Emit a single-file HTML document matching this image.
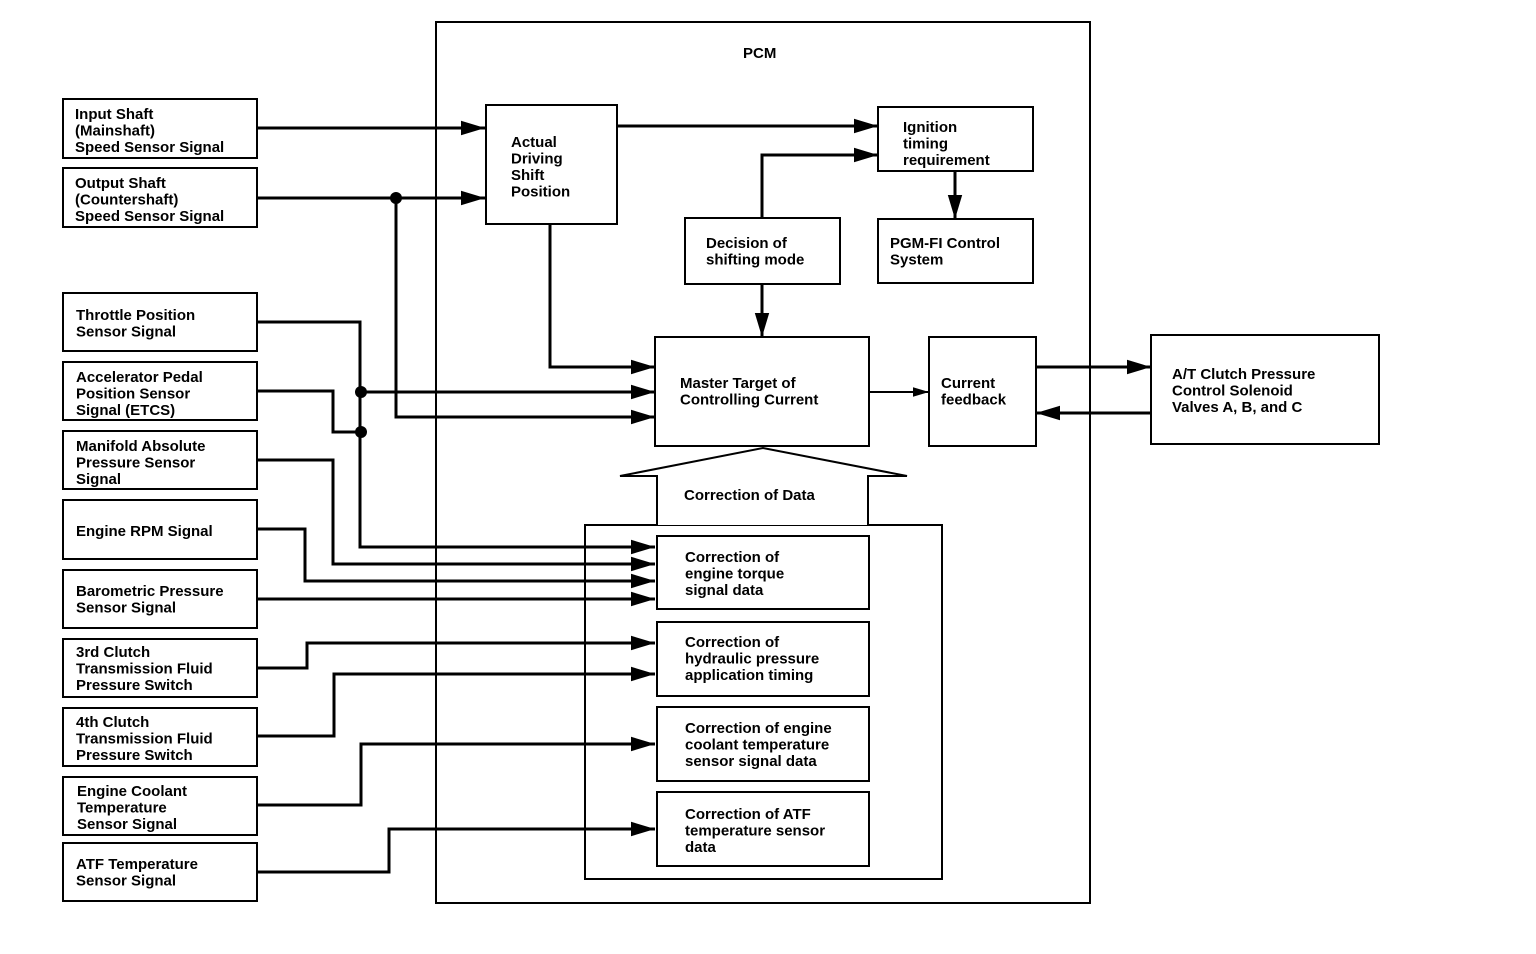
<!DOCTYPE html>
<html><head><meta charset="utf-8"><style>
html,body{margin:0;padding:0;background:#fff;}
svg{display:block;}
text{font-family:"Liberation Sans",Arial,sans-serif;font-weight:bold;font-size:15px;fill:#000;}
</style></head><body>
<svg width="1536" height="954" viewBox="0 0 1536 954" xmlns="http://www.w3.org/2000/svg">
<defs>
<marker id="a" markerWidth="8" markerHeight="6" refX="8" refY="3" orient="auto" markerUnits="strokeWidth">
<path d="M0,0.6 L8,3 L0,5.4 Z" fill="#000"/>
</marker>
</defs>
<g fill="none" stroke="#000" stroke-width="2">
<rect x="436" y="22" width="654" height="881"/>
<rect x="585" y="525" width="357" height="354"/>
<!-- left boxes -->
<rect x="63" y="99" width="194" height="59"/>
<rect x="63" y="168" width="194" height="59"/>
<rect x="63" y="293" width="194" height="58"/>
<rect x="63" y="362" width="194" height="58"/>
<rect x="63" y="431" width="194" height="58"/>
<rect x="63" y="500" width="194" height="59"/>
<rect x="63" y="570" width="194" height="58"/>
<rect x="63" y="639" width="194" height="58"/>
<rect x="63" y="708" width="194" height="58"/>
<rect x="63" y="777" width="194" height="58"/>
<rect x="63" y="843" width="194" height="58"/>
<!-- inner boxes -->
<rect x="486" y="105" width="131" height="119"/>
<rect x="878" y="107" width="155" height="64"/>
<rect x="685" y="218" width="155" height="66"/>
<rect x="878" y="219" width="155" height="64"/>
<rect x="655" y="337" width="214" height="109"/>
<rect x="929" y="337" width="107" height="109"/>
<rect x="1151" y="335" width="228" height="109"/>
<rect x="657" y="536" width="212" height="73"/>
<rect x="657" y="622" width="212" height="74"/>
<rect x="657" y="707" width="212" height="74"/>
<rect x="657" y="792" width="212" height="74"/>
<!-- big arrow -->
<polyline points="657,525 657,476 620,476 763,448 907,476 868,476 868,525" fill="#fff"/>
</g>
<g fill="none" stroke="#000" stroke-width="3">
<path d="M257,128 H485" marker-end="url(#a)"/>
<path d="M257,198 H485" marker-end="url(#a)"/>
<path d="M396,198 V417 H655" marker-end="url(#a)"/>
<path d="M617,126 H878" marker-end="url(#a)"/>
<path d="M762,218 V155 H878" marker-end="url(#a)"/>
<path d="M955,171 V219" marker-end="url(#a)"/>
<path d="M762,284 V337" marker-end="url(#a)"/>
<path d="M550,224 V367 H655" marker-end="url(#a)"/>
<path d="M869,392 H929" stroke-width="2" marker-end="url(#a)"/>
<path d="M1036,367 H1151" marker-end="url(#a)"/>
<path d="M1151,413 H1036" marker-end="url(#a)"/>
<path d="M257,322 H360 V547 H655" marker-end="url(#a)"/>
<path d="M360,392 H655" marker-end="url(#a)"/>
<path d="M257,391 H333 V432 H360"/>
<path d="M257,460 H333 V564 H655" marker-end="url(#a)"/>
<path d="M257,529 H305 V581 H655" marker-end="url(#a)"/>
<path d="M257,599 H655" marker-end="url(#a)"/>
<path d="M257,668 H307 V643 H655" marker-end="url(#a)"/>
<path d="M257,736 H334 V674 H655" marker-end="url(#a)"/>
<path d="M257,805 H361 V744 H655" marker-end="url(#a)"/>
<path d="M257,872 H389 V829 H655" marker-end="url(#a)"/>
</g>
<circle cx="396" cy="198" r="6"/>
<circle cx="361" cy="392" r="6"/>
<circle cx="361" cy="432" r="6"/>
<text x="743" y="58">PCM</text>
<text x="75" y="119">Input Shaft<tspan x="75" dy="16.5">(Mainshaft)</tspan><tspan x="75" dy="16.5">Speed Sensor Signal</tspan></text>
<text x="75" y="188">Output Shaft<tspan x="75" dy="16.5">(Countershaft)</tspan><tspan x="75" dy="16.5">Speed Sensor Signal</tspan></text>
<text x="76" y="320">Throttle Position<tspan x="76" dy="16.5">Sensor Signal</tspan></text>
<text x="76" y="382">Accelerator Pedal<tspan x="76" dy="16.5">Position Sensor</tspan><tspan x="76" dy="16.5">Signal (ETCS)</tspan></text>
<text x="76" y="451">Manifold Absolute<tspan x="76" dy="16.5">Pressure Sensor</tspan><tspan x="76" dy="16.5">Signal</tspan></text>
<text x="76" y="536">Engine RPM Signal</text>
<text x="76" y="596">Barometric Pressure<tspan x="76" dy="16.5">Sensor Signal</tspan></text>
<text x="76" y="657">3rd Clutch<tspan x="76" dy="16.5">Transmission Fluid</tspan><tspan x="76" dy="16.5">Pressure Switch</tspan></text>
<text x="76" y="727">4th Clutch<tspan x="76" dy="16.5">Transmission Fluid</tspan><tspan x="76" dy="16.5">Pressure Switch</tspan></text>
<text x="77" y="796">Engine Coolant<tspan x="77" dy="16.5">Temperature</tspan><tspan x="77" dy="16.5">Sensor Signal</tspan></text>
<text x="76" y="869">ATF Temperature<tspan x="76" dy="16.5">Sensor Signal</tspan></text>
<text x="511" y="147">Actual<tspan x="511" dy="16.5">Driving</tspan><tspan x="511" dy="16.5">Shift</tspan><tspan x="511" dy="16.5">Position</tspan></text>
<text x="903" y="132">Ignition<tspan x="903" dy="16.5">timing</tspan><tspan x="903" dy="16.5">requirement</tspan></text>
<text x="706" y="248">Decision of<tspan x="706" dy="16.5">shifting mode</tspan></text>
<text x="890" y="248">PGM-FI Control<tspan x="890" dy="16.5">System</tspan></text>
<text x="680" y="388">Master Target of<tspan x="680" dy="16.5">Controlling Current</tspan></text>
<text x="941" y="388">Current<tspan x="941" dy="16.5">feedback</tspan></text>
<text x="1172" y="379">A/T Clutch Pressure<tspan x="1172" dy="16.5">Control Solenoid</tspan><tspan x="1172" dy="16.5">Valves A, B, and C</tspan></text>
<text x="684" y="500">Correction of Data</text>
<text x="685" y="562">Correction of<tspan x="685" dy="16.5">engine torque</tspan><tspan x="685" dy="16.5">signal data</tspan></text>
<text x="685" y="647">Correction of<tspan x="685" dy="16.5">hydraulic pressure</tspan><tspan x="685" dy="16.5">application timing</tspan></text>
<text x="685" y="733">Correction of engine<tspan x="685" dy="16.5">coolant temperature</tspan><tspan x="685" dy="16.5">sensor signal data</tspan></text>
<text x="685" y="819">Correction of ATF<tspan x="685" dy="16.5">temperature sensor</tspan><tspan x="685" dy="16.5">data</tspan></text>
</svg>
</body></html>
